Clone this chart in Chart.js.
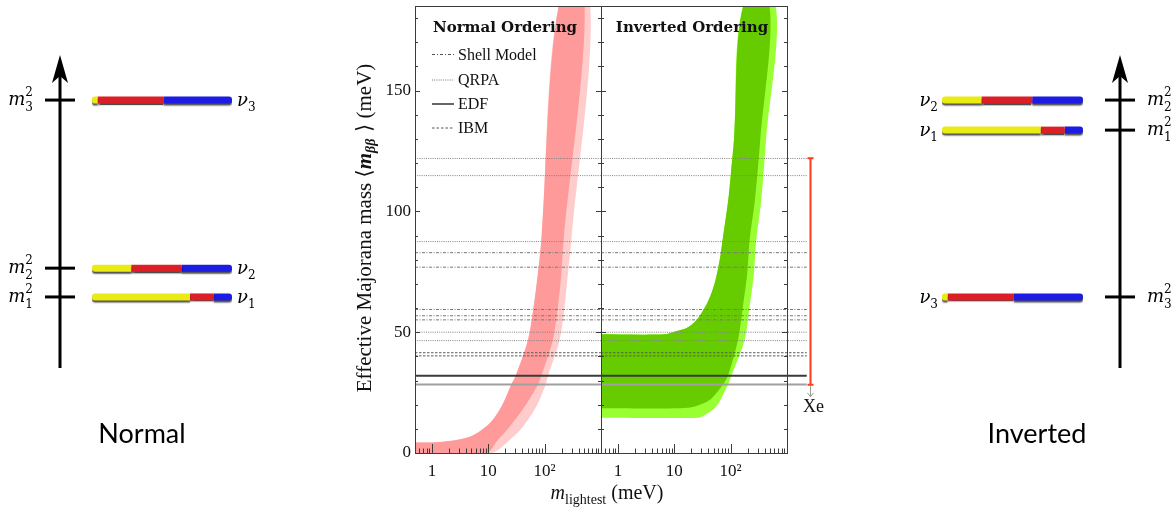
<!DOCTYPE html>
<html>
<head>
<meta charset="utf-8">
<title>Effective Majorana mass</title>
<script src="https://cdn.jsdelivr.net/npm/chart.js"></script>
<style>
  body { margin: 0; background: #fff; }
  #wrap { position: relative; width: 1173px; height: 510px; overflow: hidden; background: #fff; }
  #wrap canvas { position: absolute; top: 0; }
</style>
</head>
<body>
<div id="wrap">
  <canvas id="levelsNormal" width="300" height="510" style="left:0px"></canvas>
  <canvas id="panelNormal" width="360" height="510" style="left:340px"></canvas>
  <canvas id="panelInverted" width="260" height="510" style="left:601px"></canvas>
  <canvas id="levelsInverted" width="293" height="510" style="left:880px"></canvas>
</div>
<script>
// ---------- band edges: lightest mass (meV) vs effective mass (meV) ----------
// normal ordering, upper edge then the two lower edges (central / 3 sigma)
const noUpperMass = [0.5, 1.57, 4.67, 10.6, 17.1, 25.6, 30.6, 50.6, 63.8, 76.0, 87.4, 177];
const noUpperEff  = [4.3, 4.7, 6.7, 12.3, 19.2, 28.4, 32.0, 46.8, 60.6, 74.4, 88.2, 185];
const noInnerMass = [513, 217, 198, 172, 140, 87.4, 76.0, 44.2, 23.9, 14.8, 9.2, 0.5];
const noInnerEff  = [185, 88.2, 74.4, 60.6, 46.8, 32.0, 28.4, 19.2, 10.9, 5.4, 0, 0];
const noOuterMass = [647, 298, 259, 226, 185, 115, 104, 71.2, 41.2, 23.9, 11.3, 0.5];
const noOuterEff  = [185, 88.2, 74.4, 60.6, 46.8, 32.0, 28.4, 19.2, 10.9, 5.4, 0, 0];

// inverted ordering
const ioUpperMass = [0.5, 6.7, 10.1, 17.5, 26.3, 39.5, 52.0, 63.8, 72.0, 90.7, 101, 114.5, 167];
const ioUpperEff  = [49.1, 49.1, 50.2, 52.0, 55.8, 62.7, 70.3, 79.9, 88.2, 104.8, 115.8, 129.6, 185];
const ioInnerMass = [490, 335, 270, 217, 197, 165, 135, 89.5, 73.0, 42.4, 23.0, 13.0, 0.5];
const ioInnerEff  = [185, 129.6, 104.8, 88.2, 74.4, 60.6, 46.8, 32.0, 28.4, 21.9, 19.2, 18.5, 18.5];
const ioOuterMass = [630, 425, 350, 285, 259, 217, 177, 103, 89.5, 55.6, 34.6, 26.3, 0.5];
const ioOuterEff  = [185, 129.6, 104.8, 88.2, 74.4, 60.6, 46.8, 32.0, 28.4, 19.2, 15.7, 14.6, 14.6];

// half-life limits converted to <m_bb> for each nuclear model (meV)
const shellModelEff = [82.9, 76.9, 59.4, 56.8, 55.1];
const qrpaEff = [121.9, 114.8, 87.5, 50.0, 46.5];
const edfEff = [32.0, 28.4];
const ibmEff = [41.5, 40.2];
const xeRange = [28.2, 122.0];
const legendNames = ['Shell Model', 'QRPA', 'EDF', 'IBM'];

// x tick labels at 1, 10, 100
const decadeLabels = ['1', '10', '10\u00b2'];

// ---------- level diagrams ----------
// flavour content of nu1, nu2, nu3
const fracE   = [0.70, 0.28, 0.04];
const fracMu  = [0.17, 0.36, 0.47];
const fracTau = [0.13, 0.36, 0.49];
// heights of m1^2, m2^2, m3^2 on the diagram axis (0..10)
const normalLevels   = [2.27, 3.19, 8.56];
const invertedLevels = [7.6, 8.56, 2.27];

const SERIF = "'Liberation Serif', 'DejaVu Serif', serif";
const LINE_END_B = 2240;   // horizontal limits run a little past the right frame
const XE_COLUMN = 2560;    // where the Xe bracket sits on the extended axis

Chart.defaults.font.family = SERIF;
Chart.defaults.font.size = 17;
Chart.defaults.color = '#111';

function pts(xs, ys) {
  return xs.map((x, i) => ({ x: x, y: ys[i] }));
}

function bandDataset(upM, upV, lowM, lowV, color, order) {
  return {
    data: pts(upM, upV).concat(pts(lowM, lowV)),
    backgroundColor: color,
    borderWidth: 0,
    pointRadius: 0,
    fill: 'shape',
    tension: 0.3,
    order: order
  };
}

const lineStyles = {
  qrpa:  { color: '#808080', width: 1, dash: [1, 1.2] },
  shell: { color: '#777777', width: 1, dash: [3, 1.5, 1, 1.5] },
  edf:   [{ color: '#3a3a3a', width: 2, dash: [] }, { color: '#a0a0a0', width: 2, dash: [] }],
  ibm:   { color: '#5a5a5a', width: 1, dash: [2.5, 1.5] }
};

function hLine(v, xEnd, st, clip) {
  return {
    data: [{ x: 0.5, y: v }, { x: xEnd, y: v }],
    borderColor: st.color,
    borderWidth: st.width,
    borderDash: st.dash,
    pointRadius: 0,
    fill: false,
    clip: clip,
    order: 0
  };
}

function modelLines(xEnd, clip) {
  return [].concat(
    qrpaEff.map(v => hLine(v, xEnd, lineStyles.qrpa, clip)),
    shellModelEff.map(v => hLine(v, xEnd, lineStyles.shell, clip)),
    ibmEff.map(v => hLine(v, xEnd, lineStyles.ibm, clip)),
    edfEff.map((v, i) => hLine(v, xEnd, lineStyles.edf[i], clip))
  );
}

function decadeLabel(value) {
  const e = Math.log10(value);
  const r = Math.round(e);
  if (Math.abs(e - r) > 1e-9 || r < 0 || r > 2) return null;
  return decadeLabels[r];
}

function panelScales(showY) {
  const y = {
    type: 'linear', min: 0, max: 185, display: showY,
    grid: { display: false, drawTicks: false }, border: { display: false },
    ticks: { stepSize: 50, includeBounds: false, padding: 4 }
  };
  if (showY) {
    y.afterFit = s => { s.width = 75; s.paddingTop = 0; s.paddingBottom = 0; };
  }
  return {
    x: {
      type: 'logarithmic', min: 0.5, max: 1000,
      grid: { display: false, drawTicks: false }, border: { display: false },
      ticks: { autoSkip: false, maxRotation: 0, padding: 8, callback: decadeLabel },
      afterFit: s => { s.height = 57; s.paddingLeft = 0; s.paddingRight = 0; }
    },
    y: y
  };
}

// text made of runs with their own font and baseline shift
function drawRun(ctx, parts, x, y, align) {
  let w = 0;
  parts.forEach(p => { ctx.font = p.font; w += ctx.measureText(p.text).width; });
  let cx = align === 'center' ? x - w / 2 : align === 'right' ? x - w : x;
  ctx.textAlign = 'left';
  parts.forEach(p => {
    ctx.font = p.font;
    ctx.fillText(p.text, cx, y + (p.dy || 0));
    cx += ctx.measureText(p.text).width;
  });
}

// frame with inward ticks on both panels
const panelFrame = {
  id: 'panelFrame',
  afterDatasetsDraw(chart) {
    const { ctx, chartArea: a } = chart;
    const x = chart.scales.x, y = chart.scales.y;
    ctx.save();
    ctx.strokeStyle = '#3c3c3c';
    ctx.lineWidth = 1;
    ctx.setLineDash([]);
    ctx.strokeRect(Math.round(a.left) + 0.5, Math.round(a.top) + 0.5,
      Math.round(a.right - a.left), Math.round(a.bottom - a.top));
    ctx.beginPath();
    for (let v = 0; v <= y.max; v += 10) {
      const py = Math.round(y.getPixelForValue(v)) + 0.5;
      const len = v % 50 === 0 ? 5 : 3;
      ctx.moveTo(a.left, py); ctx.lineTo(a.left + len, py);
      ctx.moveTo(a.right, py); ctx.lineTo(a.right - len, py);
    }
    for (let d = -1; d <= 3; d++) {
      for (let k = 1; k <= 9; k++) {
        const v = k * Math.pow(10, d);
        if (v < x.min - 1e-9 || v > x.max + 1e-9) continue;
        const px = Math.round(x.getPixelForValue(v)) + 0.5;
        ctx.moveTo(px, a.bottom);
        ctx.lineTo(px, a.bottom - (k === 1 ? 9 : 4.5));
      }
    }
    ctx.stroke();
    ctx.restore();
  }
};

const normalText = {
  id: 'normalText',
  afterDraw(chart) {
    const ctx = chart.ctx;
    ctx.save();
    ctx.fillStyle = '#111';
    ctx.textBaseline = 'alphabetic';
    ctx.textAlign = 'center';
    ctx.font = "bold 15px 'DejaVu Serif'";
    ctx.fillText('Normal Ordering', 165, 32);

    // legend
    const lineY = [54.5, 80, 104, 128];
    const textY = [60, 85, 109, 133];
    const samples = [
      { color: '#555', width: 1, dash: [3, 2, 1, 2] },
      { color: '#777', width: 1, dash: [1, 1.2] },
      { color: '#333', width: 1.5, dash: [] },
      { color: '#555', width: 1, dash: [2.5, 2] }
    ];
    legendNames.forEach((name, i) => {
      ctx.beginPath();
      ctx.setLineDash(samples[i].dash);
      ctx.strokeStyle = samples[i].color;
      ctx.lineWidth = samples[i].width;
      ctx.moveTo(92, lineY[i]);
      ctx.lineTo(114, lineY[i]);
      ctx.stroke();
      ctx.setLineDash([]);
      ctx.textAlign = 'left';
      ctx.font = '16px ' + SERIF;
      ctx.fillText(name, 118, textY[i]);
    });

    // x axis title
    drawRun(ctx, [
      { text: 'm', font: 'italic 20px ' + SERIF },
      { text: 'lightest', font: '14px ' + SERIF, dy: 5 },
      { text: ' (meV)', font: '20px ' + SERIF }
    ], 267, 499, 'center');

    // y axis title
    ctx.save();
    ctx.translate(31, 228);
    ctx.rotate(-Math.PI / 2);
    drawRun(ctx, [
      { text: 'Effective Majorana mass ', font: '21px ' + SERIF },
      { text: '\u27e8', font: "21px 'DejaVu Serif'" },
      { text: 'm', font: 'italic bold 21px ' + SERIF },
      { text: '\u03b2\u03b2', font: 'italic bold 14px ' + SERIF, dy: 4 },
      { text: ' \u27e9', font: "21px 'DejaVu Serif'" },
      { text: ' (meV)', font: '21px ' + SERIF }
    ], 0, 0, 'center');
    ctx.restore();
    ctx.restore();
  }
};

const invertedText = {
  id: 'invertedText',
  afterDraw(chart) {
    const { ctx } = chart;
    const x = chart.scales.x, y = chart.scales.y;
    ctx.save();
    ctx.fillStyle = '#111';
    ctx.textAlign = 'center';
    ctx.font = "bold 15px 'DejaVu Serif'";
    ctx.fillText('Inverted Ordering', 91, 32);

    // Xe bracket
    const px = Math.round(x.getPixelForValue(XE_COLUMN)) + 0.5;
    const y0 = y.getPixelForValue(xeRange[0]);
    const y1 = y.getPixelForValue(xeRange[1]);
    ctx.strokeStyle = '#ff3b18';
    ctx.lineWidth = 2;
    ctx.beginPath();
    ctx.moveTo(px, y0); ctx.lineTo(px, y1);
    ctx.moveTo(px - 3, y0); ctx.lineTo(px + 3, y0);
    ctx.moveTo(px - 3, y1); ctx.lineTo(px + 3, y1);
    ctx.stroke();
    ctx.strokeStyle = '#9a9a9a';
    ctx.lineWidth = 1;
    ctx.beginPath();
    ctx.moveTo(px, y0 + 1); ctx.lineTo(px, y0 + 12);
    ctx.moveTo(px - 3, y0 + 8); ctx.lineTo(px, y0 + 12); ctx.lineTo(px + 3, y0 + 8);
    ctx.stroke();
    ctx.font = '18px ' + SERIF;
    ctx.fillText('Xe', px + 3, 412);
    ctx.restore();
  }
};

new Chart(document.getElementById('panelNormal'), {
  type: 'line',
  data: {
    datasets: modelLines(1000, undefined).concat([
      bandDataset(noUpperMass, noUpperEff, noInnerMass, noInnerEff, '#ff9a9a', 1),
      bandDataset(noUpperMass, noUpperEff, noOuterMass, noOuterEff, '#ffcccc', 2)
    ])
  },
  options: {
    responsive: false, animation: false, devicePixelRatio: 1,
    layout: { padding: { top: 6, right: 99, left: 0, bottom: 0 } },
    scales: panelScales(true),
    plugins: { legend: { display: false }, tooltip: { enabled: false } }
  },
  plugins: [panelFrame, normalText]
});

new Chart(document.getElementById('panelInverted'), {
  type: 'line',
  data: {
    datasets: modelLines(LINE_END_B, false).concat([
      bandDataset(ioUpperMass, ioUpperEff, ioInnerMass, ioInnerEff, '#66cc00', 1),
      bandDataset(ioUpperMass, ioUpperEff, ioOuterMass, ioOuterEff, '#99ff33', 2)
    ])
  },
  options: {
    responsive: false, animation: false, devicePixelRatio: 1,
    layout: { padding: { top: 6, right: 74, left: 0, bottom: 0 } },
    scales: panelScales(false),
    plugins: { legend: { display: false }, tooltip: { enabled: false } }
  },
  plugins: [panelFrame, invertedText]
});

// ---------- level diagrams ----------
const MATH_IT = "italic 18px 'DejaVu Serif'";
const MATH_SM = "12px 'DejaVu Serif'";

function massLabel(ctx, x, py, idx, align) {
  ctx.textAlign = 'left';
  ctx.font = MATH_IT;
  const wm = ctx.measureText('m').width;
  ctx.font = MATH_SM;
  const ws = Math.max(ctx.measureText('2').width, ctx.measureText(idx).width);
  const x0 = align === 'right' ? x - wm - ws : x;
  ctx.font = MATH_IT;
  ctx.fillText('m', x0, py + 5);
  ctx.font = MATH_SM;
  ctx.fillText('2', x0 + wm, py - 4);
  ctx.fillText(idx, x0 + wm, py + 11);
}

function nuLabel(ctx, x, py, idx, align) {
  drawRun(ctx, [
    { text: '\u03bd', font: MATH_IT },
    { text: idx, font: MATH_SM, dy: 5 }
  ], x, py + 6, align);
}

const barShadow = {
  id: 'barShadow',
  beforeDatasetsDraw(chart) {
    const c = chart.ctx;
    c.save();
    c.shadowColor = 'rgba(0,0,0,0.7)';
    c.shadowOffsetX = 0;
    c.shadowOffsetY = 2;
    c.shadowBlur = 1.5;
  },
  afterDatasetsDraw(chart) {
    chart.ctx.restore();
  }
};

const levelAxis = {
  id: 'levelAxis',
  afterDraw(chart, args, o) {
    const { ctx } = chart;
    const y = chart.scales.y;
    const yb = y.getPixelForValue(0), yt = y.getPixelForValue(10);
    ctx.save();
    ctx.fillStyle = '#000';
    ctx.strokeStyle = '#000';
    ctx.lineWidth = 3;
    ctx.beginPath();
    ctx.moveTo(o.axisX, yb);
    ctx.lineTo(o.axisX, yt + 20);
    ctx.stroke();
    ctx.beginPath();
    ctx.moveTo(o.axisX, yt);
    ctx.lineTo(o.axisX + 8, yt + 28);
    ctx.lineTo(o.axisX, yt + 21);
    ctx.lineTo(o.axisX - 8, yt + 28);
    ctx.closePath();
    ctx.fill();
    o.levels.forEach((lv, i) => {
      const py = y.getPixelForValue(lv);
      ctx.beginPath();
      ctx.moveTo(o.axisX - 15, py);
      ctx.lineTo(o.axisX + 15, py);
      ctx.stroke();
      massLabel(ctx, o.massX, py, String(i + 1), o.massAlign);
      nuLabel(ctx, o.nuX, py, String(i + 1), o.nuAlign);
    });
    ctx.font = '27px Lato';
    ctx.textAlign = 'center';
    ctx.fillText(o.title, o.titleX, 443);
    ctx.restore();
  }
};

function levelChart(canvasId, levels, pad, axis) {
  const muStart = fracE;
  const tauStart = fracE.map((f, i) => f + fracMu[i]);
  const tauEnd = tauStart.map((f, i) => f + fracTau[i]);
  const zero = levels.map(() => 0);
  const seg = (from, to) => levels.map((lv, i) => ({ x: [from[i], to[i]], y: lv }));
  const common = { barThickness: 7, grouped: false, borderSkipped: false, inflateAmount: 0 };
  return new Chart(document.getElementById(canvasId), {
    type: 'bar',
    data: {
      datasets: [
        Object.assign({ data: seg(zero, muStart), backgroundColor: '#ebeb14',
          borderRadius: { topLeft: 3, bottomLeft: 3, topRight: 0, bottomRight: 0 } }, common),
        Object.assign({ data: seg(muStart, tauStart), backgroundColor: '#dc1f26', borderRadius: 0 }, common),
        Object.assign({ data: seg(tauStart, tauEnd), backgroundColor: '#1c1ce3',
          borderRadius: { topLeft: 0, bottomLeft: 0, topRight: 3, bottomRight: 3 } }, common)
      ]
    },
    options: {
      indexAxis: 'y', responsive: false, animation: false, devicePixelRatio: 1,
      layout: { padding: pad },
      scales: {
        x: { type: 'linear', min: 0, max: 1, display: false },
        y: { type: 'linear', min: 0, max: 10, offset: false, display: false }
      },
      plugins: { legend: { display: false }, tooltip: { enabled: false }, levelAxis: axis }
    },
    plugins: [barShadow, levelAxis]
  });
}

levelChart('levelsNormal', normalLevels,
  { left: 92, right: 68, top: 55, bottom: 142 },
  { levels: normalLevels, axisX: 60, massX: 33, massAlign: 'right', nuX: 237, nuAlign: 'left', title: 'Normal', titleX: 142 });

levelChart('levelsInverted', invertedLevels,
  { left: 62, right: 90, top: 55, bottom: 142 },
  { levels: invertedLevels, axisX: 240, massX: 267, massAlign: 'left', nuX: 58, nuAlign: 'right', title: 'Inverted', titleX: 157 });
</script>
</body>
</html>
